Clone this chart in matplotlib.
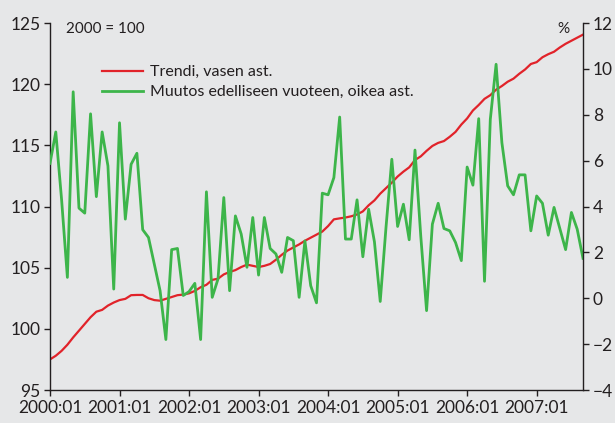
"""Trend index (left axis) and year-on-year change (right axis), 2000:01-2007:09."""
import matplotlib
matplotlib.use("Agg")
import matplotlib.pyplot as plt
import numpy as np

# Monthly observations 2000:01 ... 2007:09 (93 months)
trend = [
    97.5, 97.8, 98.2, 98.7, 99.3, 99.85, 100.4, 100.95, 101.4, 101.55,
    101.9, 102.15, 102.35, 102.45, 102.75, 102.77, 102.77, 102.5, 102.35, 102.3,
    102.45, 102.6, 102.75, 102.8, 102.9, 103.1, 103.4, 103.6, 104.0, 104.1,
    104.45, 104.65, 104.8, 105.05, 105.25, 105.15, 105.05, 105.15, 105.3, 105.65,
    106.05, 106.4, 106.65, 106.9, 107.2, 107.45, 107.7, 107.95, 108.4, 108.95,
    109.03, 109.1, 109.2, 109.35, 109.6, 110.1, 110.5, 111.05, 111.5, 111.95,
    112.45, 112.85, 113.2, 113.8, 114.1, 114.55, 114.95, 115.2, 115.35, 115.7,
    116.1, 116.7, 117.2, 117.85, 118.3, 118.8, 119.1, 119.55, 119.85, 120.2,
    120.45, 120.85, 121.2, 121.65, 121.8, 122.2, 122.45, 122.65, 123.0, 123.3,
    123.55, 123.8, 124.05,
]
change = [
    5.88, 7.25, 4.3, 0.91, 9.0, 3.93, 3.71, 8.04, 4.43, 7.25,
    5.77, 0.4, 7.65, 3.45, 5.84, 6.32, 2.99, 2.65, 1.49, 0.33,
    -1.8, 2.12, 2.17, 0.12, 0.29, 0.65, -1.8, 4.64, 0.04, 0.84,
    4.39, 0.33, 3.59, 2.8, 1.35, 3.52, 1.01, 3.52, 2.17, 1.93,
    1.13, 2.65, 2.51, 0.04, 2.5, 0.55, -0.2, 4.58, 4.51, 5.26,
    7.9, 2.58, 2.58, 4.29, 1.81, 3.88, 2.46, -0.14, 3.1, 6.06,
    3.13, 4.1, 2.55, 6.46, 2.7, -0.54, 3.23, 4.14, 3.04, 2.94,
    2.43, 1.64, 5.72, 4.93, 7.83, 0.74, 7.8, 10.2, 6.78, 4.9,
    4.51, 5.38, 5.38, 2.94, 4.46, 4.14, 2.75, 3.96, 3.04, 2.12,
    3.74, 3.01, 1.74,
]
year_labels = ["2000:01", "2001:01", "2002:01", "2003:01",
               "2004:01", "2005:01", "2006:01", "2007:01"]
left_ticks = [95, 100, 105, 110, 115, 120, 125]
right_ticks = [-4, -2, 0, 2, 4, 6, 8, 10, 12]

BG = "#e6e7e8"
INK = "#231f20"
RED = "#e1232a"
GREEN = "#3db54a"

plt.rcParams["font.family"] = ["Lato", "DejaVu Sans"]

months = np.arange(len(trend))

fig = plt.figure(figsize=(6.15, 4.23), dpi=100, facecolor=BG)
ax = fig.add_axes([50 / 615, 1 - 390 / 423, 533 / 615, 367 / 423], facecolor=BG)
ax2 = ax.twinx()
ax2.patch.set_visible(False)

l1, = ax.plot(months, trend, color=RED, linewidth=1.6, label="Trendi, vasen ast.")
l2, = ax2.plot(months, change, color=GREEN, linewidth=2.0,
               label="Muutos edelliseen vuoteen, oikea ast.")

ax.set_xlim(0, len(trend) - 1)
ax.set_ylim(95, 125)
ax2.set_ylim(-4, 12)
ax.set_xticks(np.arange(len(year_labels)) * 12)
ax.set_xticklabels(year_labels)
ax.set_yticks(left_ticks)
ax2.set_yticks(right_ticks)

for a in (ax, ax2):
    a.spines["top"].set_visible(False)
    for s in a.spines.values():
        s.set_color(INK)
        s.set_linewidth(1.0)
    a.tick_params(direction="out", length=4, width=1.0, color=INK,
                  labelcolor=INK, labelsize=12.5, pad=3)
ax.spines["right"].set_visible(False)
ax2.spines["left"].set_visible(False)
ax2.spines["bottom"].set_visible(False)

ax.text(0.03, 0.985, "2000 = 100", transform=ax.transAxes, fontsize=11,
        color=INK, ha="left", va="center")
ax2.text(0.975, 0.985, "%", transform=ax2.transAxes, fontsize=11,
         color=INK, ha="right", va="center")

ax.legend(handles=[l1, l2], loc="upper left", bbox_to_anchor=(0.097, 0.885),
          frameon=False, fontsize=11.5, handlelength=2.6, handletextpad=0.4,
          labelspacing=0.35, borderaxespad=0, borderpad=0, labelcolor=INK)

fig.savefig("out.png", dpi=100, facecolor=BG)
